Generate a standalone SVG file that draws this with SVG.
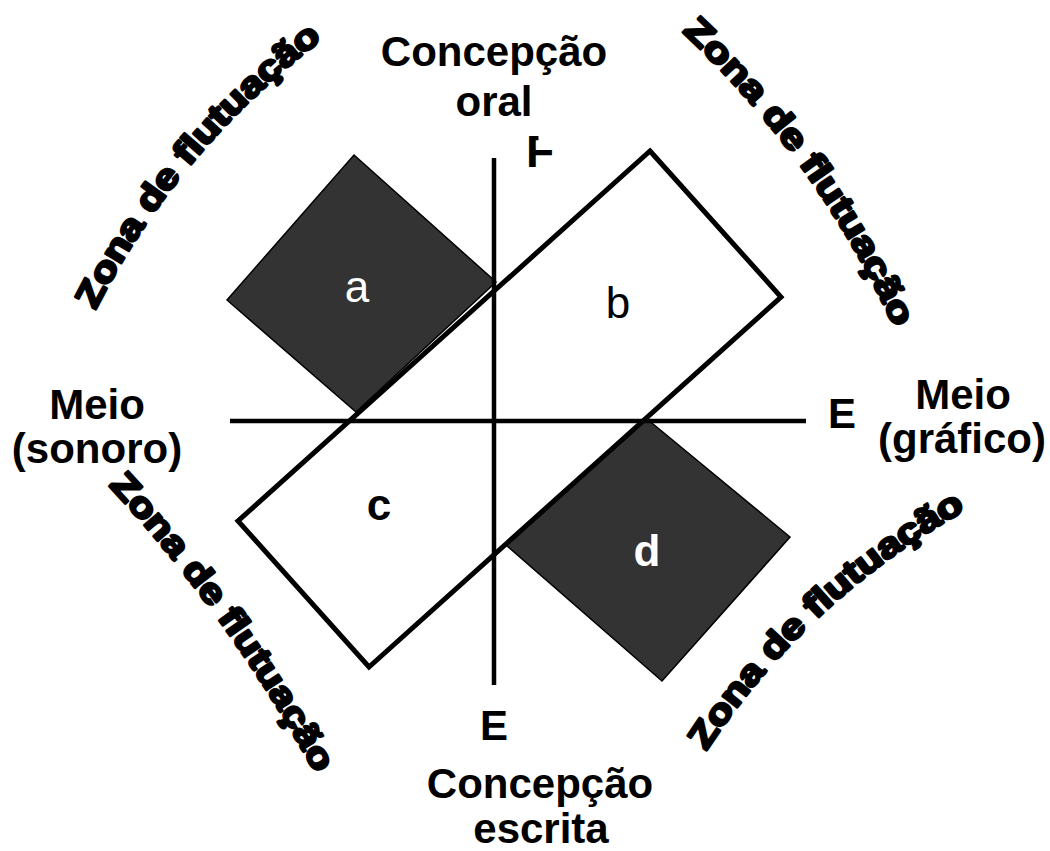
<svg xmlns="http://www.w3.org/2000/svg" width="1050" height="851" viewBox="0 0 1050 851">
<style>
.lbl{font-family:"Liberation Sans",Arial,sans-serif;font-weight:bold;font-size:42px;fill:#000;text-anchor:middle}
.zone{font-family:"Liberation Sans",Arial,sans-serif;font-weight:900;font-size:35px;fill:#000;stroke:#000;stroke-width:2.6;stroke-linejoin:round;dominant-baseline:middle}
.dark{fill:#333333;stroke:#000;stroke-width:1.5}
.axis{stroke:#000;stroke-width:4.5;fill:none}
.rect{fill:none;stroke:#000;stroke-width:5;stroke-linejoin:miter}
.q{font-family:"Liberation Sans",Arial,sans-serif;font-size:44px;text-anchor:middle}
</style>
<defs>
<path id="arcTL" d="M50.3,391.9 A784,784 0 0 1 395,-19"/>
<path id="arcTR" d="M630.9,-23.7 A933,933 0 0 1 930.7,394.2"/>
<path id="arcBL" d="M48.8,412.6 A1422,1422 0 0 1 365.5,853.9"/>
<path id="arcBR" d="M655.8,820.5 A749,749 0 0 1 1028.8,469.1"/>
<clipPath id="clipF">
<rect x="520" y="136" width="18.5" height="40"/>
<rect x="520" y="145" width="50" height="31"/>
</clipPath>
</defs>
<g id="square-a">
<polygon class="dark" points="354,155 496,282 356,412 227,300"/>
<text class="q" x="357" y="302" fill="#fff">a</text>
</g>
<g id="square-d">
<polygon class="dark" points="647,419 790,537 662,681 506,545"/>
<text class="q" x="647" y="566" fill="#fff" font-weight="bold">d</text>
</g>
<g id="rect-bc">
<polygon class="rect" points="650,151 781,297 369,667 238,521"/>
<text class="q" x="618" y="318" fill="#000">b</text>
<text class="q" x="379" y="520" fill="#000" font-weight="bold">c</text>
</g>
<g id="connectors">
<line class="axis" x1="494" y1="158" x2="494" y2="685"/>
<line class="axis" x1="230" y1="421" x2="806" y2="421"/>
</g>
<g id="label-top">
<text class="lbl" x="494" y="66">Concepção</text>
<text class="lbl" x="494" y="116">oral</text>
<text class="lbl" x="526" y="167" style="text-anchor:start;font-size:46px" clip-path="url(#clipF)">F</text>
</g>
<g id="label-bottom">
<text class="lbl" x="494" y="740">E</text>
<text class="lbl" x="540" y="798">Concepção</text>
<text class="lbl" x="541" y="843">escrita</text>
</g>
<g id="label-left">
<text class="lbl" x="97" y="419">Meio</text>
<text class="lbl" x="97" y="463">(sonoro)</text>
</g>
<g id="label-right">
<text class="lbl" x="842" y="428">E</text>
<text class="lbl" x="963" y="409">Meio</text>
<text class="lbl" x="962" y="453">(gráfico)</text>
</g>
<g id="zones">
<text class="zone"><textPath href="#arcTL" startOffset="50%" text-anchor="middle" textLength="360" lengthAdjust="spacingAndGlyphs">Zona de flutuação</textPath></text>
<text class="zone"><textPath href="#arcTR" startOffset="50%" text-anchor="middle" textLength="370" lengthAdjust="spacingAndGlyphs">Zona de flutuação</textPath></text>
<text class="zone"><textPath href="#arcBL" startOffset="50%" text-anchor="middle" textLength="358" lengthAdjust="spacingAndGlyphs">Zona de flutuação</textPath></text>
<text class="zone"><textPath href="#arcBR" startOffset="51%" text-anchor="middle" textLength="362" lengthAdjust="spacingAndGlyphs">Zona de flutuação</textPath></text>
</g>
</svg>
